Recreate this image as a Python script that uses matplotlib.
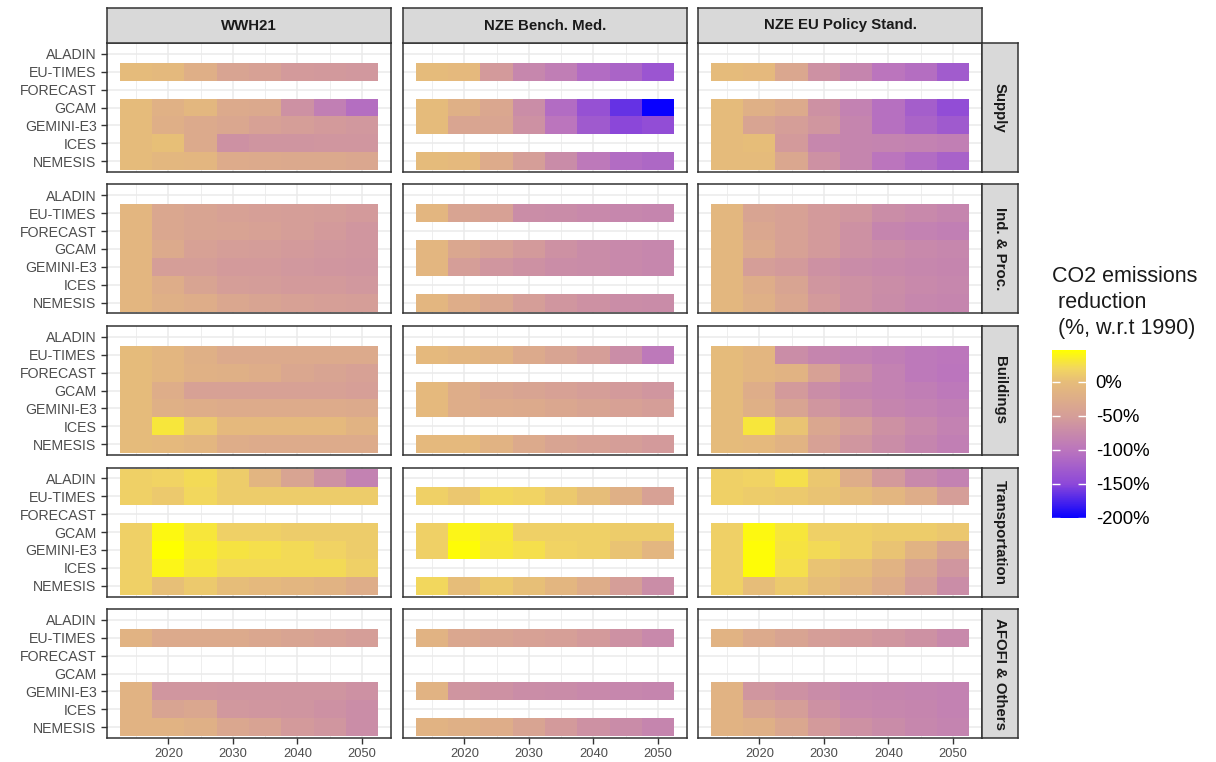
import numpy as np
import matplotlib.pyplot as plt
from matplotlib.colors import LinearSegmentedColormap, Normalize
from matplotlib.ticker import FuncFormatter

plt.rcParams['font.family'] = ['Liberation Sans', 'DejaVu Sans']

# Ejes de la grilla
anios = [2015, 2020, 2025, 2030, 2035, 2040, 2045, 2050]
modelos = ["ALADIN", "EU-TIMES", "FORECAST", "GCAM", "GEMINI-E3", "ICES", "NEMESIS"]
escenarios = ["WWH21", "NZE Bench. Med.", "NZE EU Policy Stand."]
sectores = ["Supply", "Ind. & Proc.", "Buildings", "Transportation", "AFOFI & Others"]

# Reduccion de emisiones de CO2 (%) respecto a 1990, por sector y escenario
supply_wwh21 = {
    "EU-TIMES":  [-3, -6, -22, -40, -45, -55, -56, -58],
    "GCAM":      [-3, -18, -8, -30, -32, -65, -88, -108],
    "GEMINI-E3": [-3, -22, -30, -35, -45, -50, -55, -58],
    "ICES":      [-3, 2, -30, -65, -62, -62, -60, -60],
    "NEMESIS":   [-3, -8, -10, -28, -30, -32, -32, -35],
}
supply_bench = {
    "EU-TIMES":  [-3, -5, -55, -78, -90, -110, -118, -135],
    "GCAM":      [-3, -20, -35, -70, -110, -140, -165, -200],
    "GEMINI-E3": [-3, -38, -38, -65, -100, -130, -150, -145],
    "NEMESIS":   [-3, -5, -28, -50, -72, -95, -110, -115],
}
supply_eupol = {
    "EU-TIMES":  [-3, -5, -35, -65, -80, -100, -108, -128],
    "GCAM":      [-3, -20, -30, -65, -85, -105, -125, -145],
    "GEMINI-E3": [-3, -40, -50, -60, -80, -105, -118, -130],
    "ICES":      [-3, 0, -55, -78, -80, -82, -85, -88],
    "NEMESIS":   [-3, -3, -35, -65, -80, -100, -110, -120],
}
ind_wwh21 = {
    "EU-TIMES":  [-10, -35, -40, -45, -48, -50, -52, -55],
    "FORECAST":  [-10, -35, -40, -42, -45, -50, -55, -60],
    "GCAM":      [-10, -30, -45, -50, -52, -55, -58, -60],
    "GEMINI-E3": [-10, -50, -50, -55, -55, -58, -60, -62],
    "ICES":      [-10, -25, -40, -50, -52, -55, -55, -58],
    "NEMESIS":   [-10, -20, -25, -35, -40, -45, -48, -50],
}
ind_bench = {
    "EU-TIMES":  [-10, -40, -45, -70, -72, -75, -78, -80],
    "GCAM":      [-10, -35, -45, -55, -65, -72, -75, -78],
    "GEMINI-E3": [-10, -50, -60, -65, -70, -72, -75, -78],
    "NEMESIS":   [-10, -25, -35, -50, -60, -65, -70, -72],
}
ind_eupol = {
    "EU-TIMES":  [-8, -40, -45, -55, -60, -70, -75, -80],
    "FORECAST":  [-8, -35, -45, -55, -65, -80, -85, -88],
    "GCAM":      [-8, -30, -45, -55, -65, -70, -75, -78],
    "GEMINI-E3": [-8, -50, -55, -65, -72, -75, -78, -80],
    "ICES":      [-8, -25, -40, -60, -65, -70, -75, -78],
    "NEMESIS":   [-8, -20, -35, -55, -65, -72, -78, -80],
}
build_wwh21 = {
    "EU-TIMES":  [-3, -10, -20, -30, -30, -30, -30, -30],
    "FORECAST":  [-3, -10, -18, -20, -25, -35, -40, -45],
    "GCAM":      [-3, -25, -45, -45, -45, -45, -45, -48],
    "GEMINI-E3": [-3, -20, -25, -28, -28, -28, -28, -30],
    "ICES":      [-3, 30, 10, -5, -5, -5, -5, -15],
    "NEMESIS":   [-3, -5, -10, -25, -28, -28, -28, -28],
}
build_bench = {
    "EU-TIMES":  [-5, -10, -15, -30, -40, -50, -70, -95],
    "GCAM":      [-5, -25, -35, -40, -45, -50, -55, -60],
    "GEMINI-E3": [-5, -25, -28, -30, -35, -40, -45, -50],
    "NEMESIS":   [-5, -5, -15, -30, -40, -45, -50, -55],
}
build_eupol = {
    "EU-TIMES":  [-3, -10, -70, -80, -85, -90, -95, -98],
    "FORECAST":  [-3, -10, -15, -45, -70, -85, -95, -100],
    "GCAM":      [-3, -25, -55, -70, -80, -85, -90, -95],
    "GEMINI-E3": [-3, -20, -40, -60, -70, -80, -85, -90],
    "ICES":      [-3, 30, 5, -35, -50, -65, -75, -85],
    "NEMESIS":   [-3, -5, -15, -45, -60, -70, -80, -88],
}
transp_wwh21 = {
    "ALADIN":    [15, 18, 22, 12, -12, -40, -65, -85],
    "EU-TIMES":  [15, 10, 20, 12, 12, 12, 12, 12],
    "GCAM":      [15, 42, 30, 15, 15, 12, 12, 12],
    "GEMINI-E3": [15, 47, 35, 28, 25, 22, 18, 12],
    "ICES":      [15, 40, 30, 22, 22, 22, 22, 15],
    "NEMESIS":   [15, 2, 10, 0, -5, -10, -15, -25],
}
transp_bench = {
    "EU-TIMES":  [15, 8, 20, 18, 10, 0, -20, -45],
    "GCAM":      [15, 40, 32, 15, 15, 15, 12, 12],
    "GEMINI-E3": [15, 45, 30, 25, 18, 15, 5, -10],
    "NEMESIS":   [20, 0, 10, 2, -10, -25, -50, -70],
}
transp_eupol = {
    "ALADIN":    [15, 18, 25, 8, -25, -55, -75, -85],
    "EU-TIMES":  [15, 12, 10, 5, 0, -10, -25, -50],
    "GCAM":      [15, 42, 30, 15, 15, 12, 12, 8],
    "GEMINI-E3": [15, 45, 28, 22, 15, 5, -15, -40],
    "ICES":      [15, 45, 25, 5, 0, -15, -40, -60],
    "NEMESIS":   [15, 0, 10, 0, -10, -25, -50, -70],
}
afofi_wwh21 = {
    "EU-TIMES":  [-15, -30, -30, -30, -35, -40, -45, -50],
    "GEMINI-E3": [-15, -60, -60, -62, -62, -62, -62, -65],
    "ICES":      [-15, -40, -35, -58, -60, -62, -65, -70],
    "NEMESIS":   [-15, -15, -20, -35, -42, -55, -60, -70],
}
afofi_bench = {
    "EU-TIMES":  [-15, -35, -40, -45, -48, -55, -65, -75],
    "GEMINI-E3": [-15, -62, -65, -70, -72, -75, -78, -80],
    "NEMESIS":   [-15, -20, -25, -40, -55, -65, -72, -80],
}
afofi_eupol = {
    "EU-TIMES":  [-15, -30, -40, -50, -55, -60, -65, -75],
    "GEMINI-E3": [-15, -60, -65, -72, -78, -80, -82, -85],
    "ICES":      [-15, -40, -50, -65, -75, -78, -80, -85],
    "NEMESIS":   [-15, -20, -35, -55, -65, -72, -78, -82],
}

tablas = [
    [supply_wwh21, supply_bench, supply_eupol],
    [ind_wwh21, ind_bench, ind_eupol],
    [build_wwh21, build_bench, build_eupol],
    [transp_wwh21, transp_bench, transp_eupol],
    [afofi_wwh21, afofi_bench, afofi_eupol],
]

# Escala de color: azul (-200%) -> violeta -> beige (0%) -> amarillo
todos = [v for fila in tablas for t in fila for vals in t.values() for v in vals]
vmin, vmax = min(todos), max(todos)
nodos = [(-200, "#0800ff"), (-150, "#8d48d9"), (-100, "#bb75bd"),
         (-50, "#d59e98"), (0, "#e6bc7a"), (20, "#f2d660"), (vmax, "#ffff00")]
cmap = LinearSegmentedColormap.from_list(
    "co2", [((v - vmin) / (vmax - vmin), c) for v, c in nodos])
norm = Normalize(vmin=vmin, vmax=vmax)

W, H = 1216, 762
fig = plt.figure(figsize=(W / 100, H / 100), dpi=100)

col_izq = [107, 403, 698]
ancho = 284
fila_sup = [43, 184.5, 326, 467.5, 609]
alto = 129
borde = "#333333"

x_bordes = np.arange(2012.5, 2053, 5)
y_bordes = np.arange(-0.5, 7, 1)
y_pos = [6 - i for i in range(len(modelos))]

def caja(x0, y0, w, h):
    return [x0 / W, 1 - (y0 + h) / H, w / W, h / H]

def tira(x0, y0, w, h, texto, rot):
    st = fig.add_axes(caja(x0, y0, w, h))
    st.set_facecolor("#d9d9d9")
    st.set_xticks([])
    st.set_yticks([])
    for s in st.spines.values():
        s.set_color(borde)
        s.set_linewidth(1.1)
    st.text(0.5, 0.5, texto, ha="center", va="center", rotation=rot,
            fontsize=10.8, fontweight="bold", color="#1a1a1a")

for i, sector in enumerate(sectores):
    for j, esc in enumerate(escenarios):
        ax = fig.add_axes(caja(col_izq[j], fila_sup[i], ancho, alto))
        Z = np.full((len(modelos), len(anios)), np.nan)
        for modelo, vals in tablas[i][j].items():
            Z[6 - modelos.index(modelo)] = vals
        ax.pcolormesh(x_bordes, y_bordes, np.ma.masked_invalid(Z),
                      cmap=cmap, norm=norm, edgecolors="none")
        ax.set_xlim(2010.5, 2054.5)
        ax.set_ylim(-0.6, 6.6)
        ax.set_xticks([2020, 2030, 2040, 2050])
        ax.set_xticks([2015, 2025, 2035, 2045], minor=True)
        ax.set_yticks(y_pos)
        ax.set_axisbelow(True)
        ax.grid(True, which="major", color="#ebebeb", linewidth=1.1)
        ax.grid(True, which="minor", axis="x", color="#ebebeb", linewidth=0.6)
        ax.tick_params(which="minor", length=0)
        ax.tick_params(which="major", color=borde, length=4, width=1)
        if j == 0:
            ax.set_yticklabels(modelos, fontsize=10.2, color="#4d4d4d")
        else:
            ax.tick_params(axis="y", length=0, labelleft=False)
        if i == len(sectores) - 1:
            ax.set_xticklabels([str(a) for a in [2020, 2030, 2040, 2050]],
                               fontsize=9.3, color="#4d4d4d")
        else:
            ax.tick_params(axis="x", length=0, labelbottom=False)
        for s in ax.spines.values():
            s.set_color(borde)
            s.set_linewidth(1.1)

        # Tiras con el escenario (arriba) y el sector (derecha)
        if i == 0:
            tira(col_izq[j], 8, ancho, 35, esc, 0)
        if j == 2:
            tira(982, fila_sup[i], 36, alto, sector, 270)

# Barra de colores
cax = fig.add_axes(caja(1052, 350, 34, 168))
sm = plt.cm.ScalarMappable(norm=norm, cmap=cmap)
cb = fig.colorbar(sm, cax=cax)
cb.outline.set_visible(False)
cb.set_ticks([0, -50, -100, -150, -200])
cb.ax.yaxis.set_major_formatter(FuncFormatter(lambda v, p: f"{v:.0f}%"))
cb.ax.tick_params(direction="in", length=6, width=1, color="white",
                  left=True, right=True, labelsize=13.3, pad=7)
fig.text(1052 / W, 1 - 266 / H, "CO2 emissions\n reduction\n (%, w.r.t 1990)",
         ha="left", va="top", fontsize=15.5, linespacing=1.3, color="#1a1a1a")

fig.savefig("out.png", dpi=100)
